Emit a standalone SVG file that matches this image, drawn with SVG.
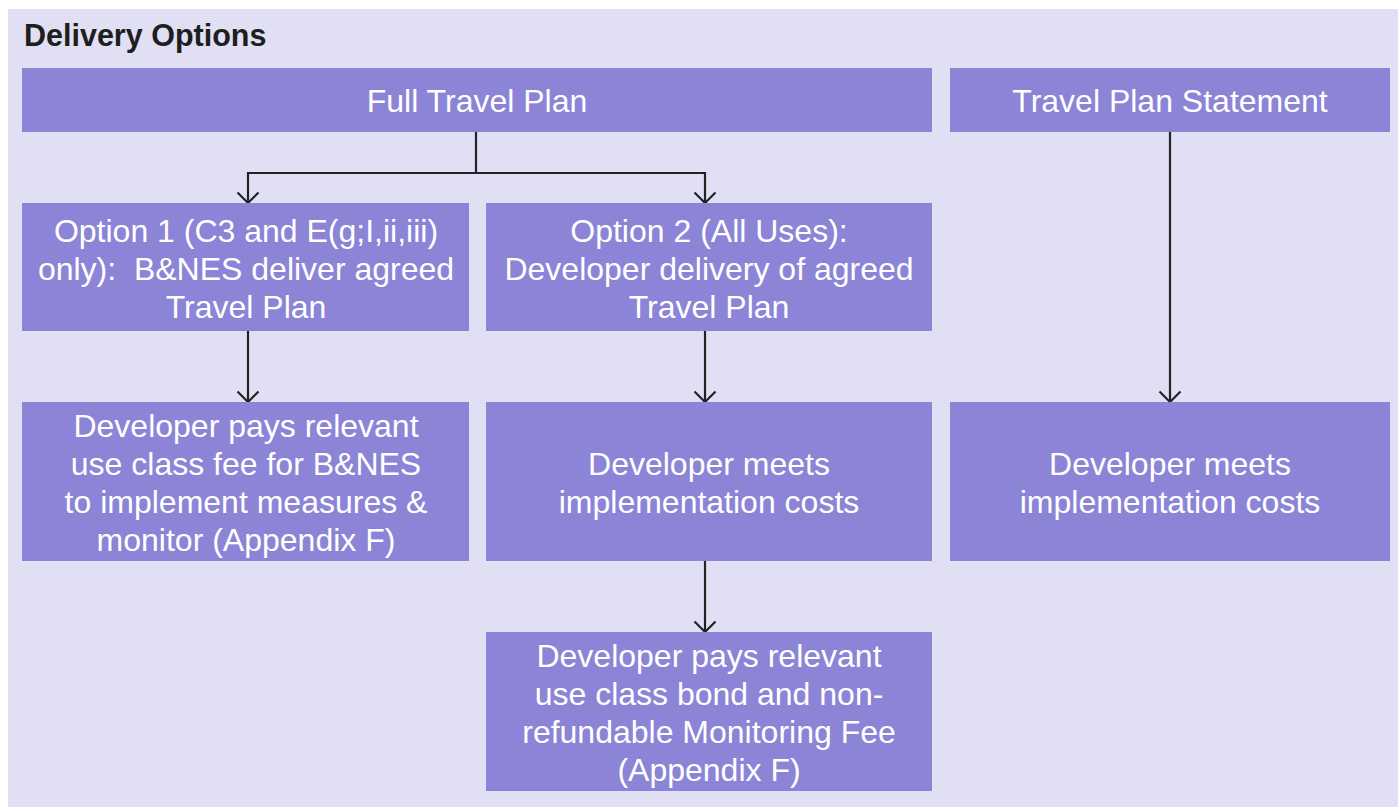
<svg xmlns="http://www.w3.org/2000/svg" width="1398" height="807" viewBox="0 0 1398 807">
<style>
.box{fill:#8B84D7;}
.t{font-family:"Liberation Sans",Arial,sans-serif;font-size:32px;fill:#FFFFFF;text-anchor:middle;}
.title{font-family:"Liberation Sans",Arial,sans-serif;font-size:30.5px;font-weight:bold;fill:#1E1E1E;}
.c{fill:none;stroke:#222222;stroke-width:2.2;}
</style>
<defs>
<marker id="arr" markerWidth="16" markerHeight="24" refX="13" refY="12" orient="auto" markerUnits="userSpaceOnUse" viewBox="0 0 16 24">
<path d="M2.5,1.5 L13,12 L2.5,22.5" fill="none" stroke="#222222" stroke-width="2.2"/>
</marker>
</defs>
<rect x="0" y="0" width="1398" height="807" fill="#FFFFFF"/>
<rect x="8" y="9" width="1390" height="798" fill="#E1DFF4"/>
<text class="title" x="24" y="46">Delivery Options</text>

<g id="connectors">
<path class="c" d="M476,132 V173 H248 V203" marker-end="url(#arr)"/>
<path class="c" d="M476,173 H705 V203" marker-end="url(#arr)"/>
<path class="c" d="M248,331 V402" marker-end="url(#arr)"/>
<path class="c" d="M705,331 V402" marker-end="url(#arr)"/>
<path class="c" d="M1170,132 V402" marker-end="url(#arr)"/>
<path class="c" d="M705,561 V632" marker-end="url(#arr)"/>
</g>

<g id="full-travel-plan">
<rect class="box" x="22" y="68" width="910" height="64"/>
<text class="t" x="477" y="112">Full Travel Plan</text>
</g>
<g id="travel-plan-statement">
<rect class="box" x="950" y="68" width="440" height="64"/>
<text class="t" x="1170" y="112">Travel Plan Statement</text>
</g>
<g id="option1">
<rect class="box" x="22" y="203" width="447" height="128"/>
<text class="t" x="246" y="242">Option 1 (C3 and E(g;I,ii,iii)</text>
<text class="t" x="246" y="280" xml:space="preserve">only):  B&amp;NES deliver agreed</text>
<text class="t" x="246" y="318">Travel Plan</text>
</g>
<g id="option2">
<rect class="box" x="486" y="203" width="446" height="128"/>
<text class="t" x="709" y="242">Option 2 (All Uses):</text>
<text class="t" x="709" y="280">Developer delivery of agreed</text>
<text class="t" x="709" y="318">Travel Plan</text>
</g>
<g id="dev-pays-fee">
<rect class="box" x="22" y="402" width="447" height="159"/>
<text class="t" x="246" y="437">Developer pays relevant</text>
<text class="t" x="246" y="475">use class fee for B&amp;NES</text>
<text class="t" x="246" y="513">to implement measures &amp;</text>
<text class="t" x="246" y="551">monitor (Appendix F)</text>
</g>
<g id="dev-meets-2">
<rect class="box" x="486" y="402" width="446" height="159"/>
<text class="t" x="709" y="475">Developer meets</text>
<text class="t" x="709" y="513">implementation costs</text>
</g>
<g id="dev-meets-3">
<rect class="box" x="950" y="402" width="440" height="159"/>
<text class="t" x="1170" y="475">Developer meets</text>
<text class="t" x="1170" y="513">implementation costs</text>
</g>
<g id="dev-pays-bond">
<rect class="box" x="486" y="632" width="446" height="159"/>
<text class="t" x="709" y="667">Developer pays relevant</text>
<text class="t" x="709" y="705">use class bond and non-</text>
<text class="t" x="709" y="743">refundable Monitoring Fee</text>
<text class="t" x="709" y="781">(Appendix F)</text>
</g>
</svg>
